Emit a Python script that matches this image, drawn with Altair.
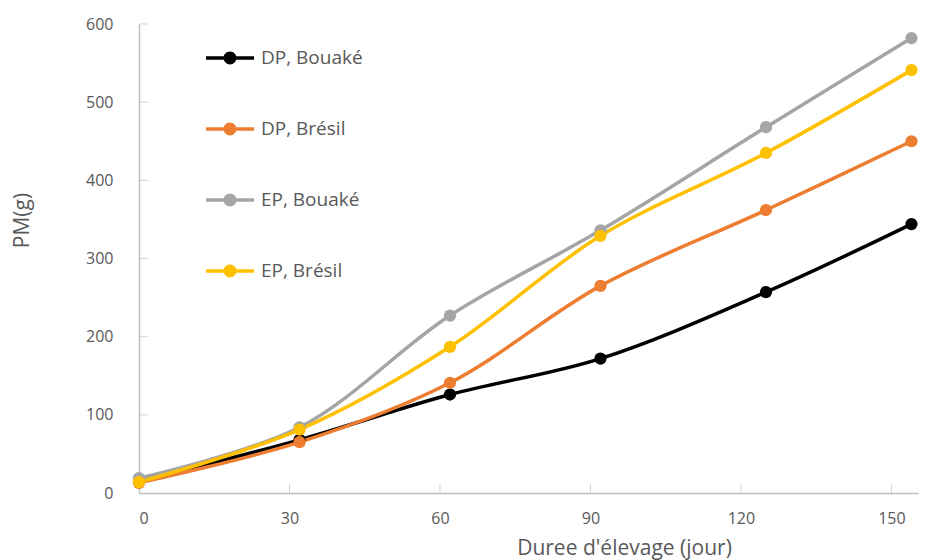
import altair as alt
import pandas as pd

days = [0, 32, 62, 92, 125, 154]
series_names = ["DP, Bouaké", "DP, Brésil", "EP, Bouaké", "EP, Brésil"]
dp_bouake = [15, 68, 126, 172, 257, 344]
dp_bresil = [13, 65, 141, 265, 362, 450]
ep_bouake = [19, 84, 227, 336, 468, 582]
ep_bresil = [14, 81, 187, 329, 435, 541]
colors = ["#000000", "#ED7D31", "#A5A5A5", "#FFC000"]
x_ticks = [30, 60, 90, 120, 150]
y_ticks = [100, 200, 300, 400, 500, 600]

rows = []
for name, vals in zip(series_names, [dp_bouake, dp_bresil, ep_bouake, ep_bresil]):
    for d, v in zip(days, vals):
        rows.append({"Série": name, "jour": d, "PM": v})
df = pd.DataFrame(rows)

FONT = "Open Sans"
x_scale = alt.Scale(domain=[0, 155.5], nice=False, zero=True)
y_scale = alt.Scale(domain=[0, 600], nice=False)
color_scale = alt.Scale(domain=series_names, range=colors)

sym = ("M-1,-0.075H1V0.075H-1Z "
       "M-0.27,0A0.27,0.27 0 1,1 0.27,0A0.27,0.27 0 1,1 -0.27,0Z")

legend = alt.Legend(title=None, orient="none", legendX=67, legendY=10,
                    symbolType=sym, symbolSize=2304,
                    symbolStrokeWidth=0, padding=0,
                    rowPadding=37, labelOffset=7,
                    labelFontSize=19, labelFont=FONT,
                    labelColor="#595959", labelLimit=300)

x_enc = alt.X("jour:Q", scale=x_scale,
              axis=alt.Axis(values=[0, 30, 60, 90, 120, 150],
                            title="Duree d'élevage (jour)",
                            titleX=485, titlePadding=11, labelPadding=17))
y_enc = alt.Y("PM:Q", scale=y_scale,
              axis=alt.Axis(values=[0, 100, 200, 300, 400, 500, 600],
                            title="PM(g)", labelPadding=26,
                            titleX=-117, titleY=196, titleAngle=-90,
                            titleAlign="center", titleBaseline="middle"))

lines = alt.Chart(df).mark_line(interpolate="catmull-rom", strokeWidth=3.5).encode(
    x=x_enc, y=y_enc,
    color=alt.Color("Série:N", scale=color_scale, legend=legend),
)

points = alt.Chart(df).mark_point(filled=True, size=150, opacity=1).encode(
    x=alt.X("jour:Q", scale=x_scale),
    y=alt.Y("PM:Q", scale=y_scale),
    color=alt.Color("Série:N", scale=color_scale, legend=legend),
)

xt = alt.Chart(pd.DataFrame({"t": x_ticks})).mark_tick(
    orient="vertical", size=9, thickness=1, color="#BFBFBF", yOffset=-4.5
).encode(x=alt.X("t:Q", scale=x_scale), y=alt.Y("z:Q", scale=y_scale)).transform_calculate(z="0")

yt = alt.Chart(pd.DataFrame({"t": y_ticks})).mark_tick(
    orient="horizontal", size=9, thickness=1, color="#BFBFBF", xOffset=4.5
).encode(y=alt.Y("t:Q", scale=y_scale), x=alt.X("z:Q", scale=x_scale)).transform_calculate(z="0")

chart = alt.layer(xt, yt, lines, points).properties(
    width=780, height=469, background="white",
    padding={"left": 3, "top": 8, "right": 0, "bottom": 5},
).configure_view(stroke=None).configure_axis(
    grid=False, ticks=False, domainColor="#BFBFBF", domainWidth=1.5,
    labelFont=FONT, labelFontSize=16, labelColor="#595959",
    titleFont=FONT, titleFontSize=21, titleColor="#595959", titleFontWeight="normal",
)

chart.save("out.html", embed_options={"renderer": "svg", "actions": False})
